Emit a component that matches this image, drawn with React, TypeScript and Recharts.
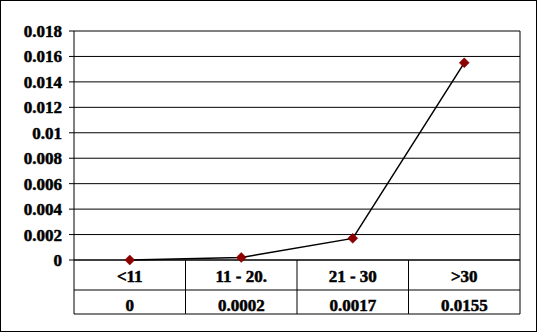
import { LineChart, Line, XAxis, YAxis, CartesianGrid } from "recharts";

const categories = ["<11", "11 - 20.", "21 - 30", ">30"];
const values = [0, 0.0002, 0.0017, 0.0155];
const tableLabels = ["0", "0.0002", "0.0017", "0.0155"];
const yTicks = [0, 0.002, 0.004, 0.006, 0.008, 0.01, 0.012, 0.014, 0.016, 0.018];

const W = 537;
const H = 332;
const MARGIN = { top: 31, right: 17, bottom: 18, left: 0 };
const Y_AXIS_W = 74;
const PLOT_W = W - MARGIN.right - MARGIN.left - Y_AXIS_W;
const CELL = PLOT_W / categories.length;

const data = categories.map((name, i) => ({ name, value: values[i], label: tableLabels[i] }));

// heavier look, the original renders its bold serif without smoothing
const textCss = {
  fontFamily: "Liberation Serif, Times New Roman, serif",
  fontWeight: 700,
  fontSize: "17px",
};
const textStyle = {
  fill: "#000",
  stroke: "#000",
  strokeWidth: 0.5,
  style: textCss,
};

function TableTick(props: any) {
  const { x, y, payload } = props;
  const i = payload.index;
  const left = x - CELL / 2;
  const right = x + CELL / 2;
  return (
    <g>
      <line x1={left} y1={y} x2={left} y2={y + 54} stroke="#000" />
      {i === categories.length - 1 ? <line x1={right} y1={y} x2={right} y2={y + 54} stroke="#000" /> : null}
      <line x1={left} y1={y + 30} x2={right} y2={y + 30} stroke="#000" />
      <line x1={left} y1={y + 54} x2={right} y2={y + 54} stroke="#000" />
      <text x={x} y={y + 21.5} textAnchor="middle" {...textStyle}>
        {payload.value}
      </text>
      <text x={x} y={y + 51} textAnchor="middle" {...textStyle}>
        {data[i].label}
      </text>
    </g>
  );
}

function Diamond(props: any) {
  const { cx, cy } = props;
  if (cx == null || cy == null) return null;
  const r = 5;
  return (
    <polygon
      points={`${cx},${cy - r} ${cx + r},${cy} ${cx},${cy + r} ${cx - r},${cy}`}
      fill="#8b0000"
      stroke="#8b0000"
      strokeWidth={0.5}
    />
  );
}

export default function App() {
  return (
    <div style={{ position: "absolute", left: 0, top: 0, width: W, height: H, background: "#fff" }}>
      <LineChart width={W} height={H} data={data} margin={MARGIN}>
        <CartesianGrid
          stroke="#000"
          strokeOpacity={1}
          vertical={true}
          verticalCoordinatesGenerator={({ offset }: any) => [offset.left + offset.width]}
        />
        <XAxis
          dataKey="name"
          height={54}
          padding={{ left: CELL / 2, right: CELL / 2 }}
          axisLine={{ stroke: "#000" }}
          tickLine={false}
          tickSize={0}
          tickMargin={0}
          interval={0}
          tick={<TableTick />}
        />
        <YAxis
          width={Y_AXIS_W}
          domain={[0, 0.018]}
          ticks={yTicks}
          interval={0}
          axisLine={{ stroke: "#000" }}
          tickLine={{ stroke: "#000" }}
          tickSize={5}
          tickMargin={7}
          tick={textStyle}
        />
        <Line
          type="linear"
          dataKey="value"
          stroke="#000"
          strokeWidth={1.5}
          dot={<Diamond />}
          activeDot={false}
          isAnimationActive={false}
        />
      </LineChart>
      <div
        style={{
          position: "absolute",
          left: 0,
          top: 0,
          width: W,
          height: H,
          boxSizing: "border-box",
          border: "1px solid #000",
          pointerEvents: "none",
        }}
      />
    </div>
  );
}
